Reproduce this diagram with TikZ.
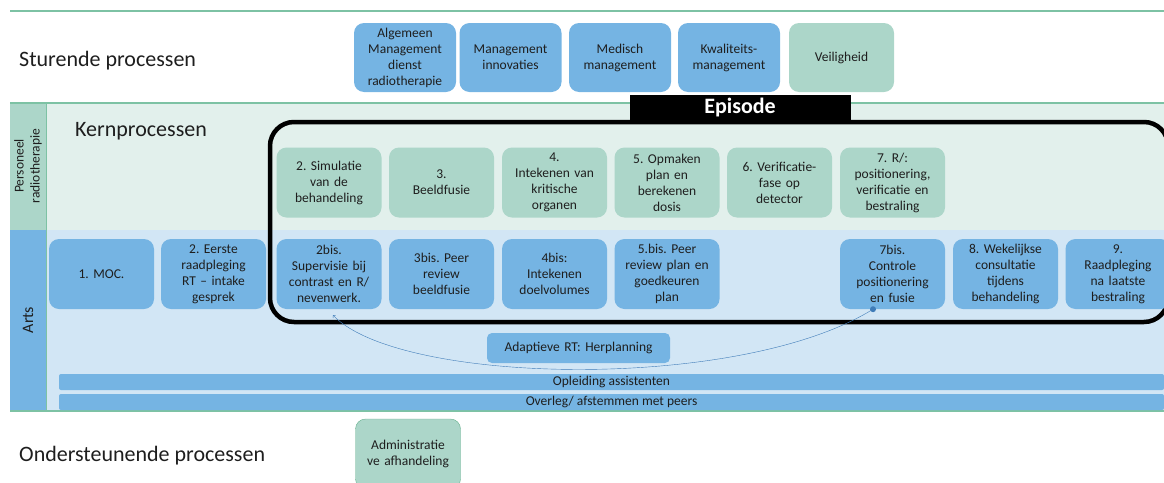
\documentclass[tikz,border=0pt]{standalone}
\usepackage{fontspec}
\setmainfont{Carlito}
\usetikzlibrary{arrows.meta}
\tikzset{>={Straight Barb[scale=.8]}}
\definecolor{boxblue}{RGB}{117,180,227}
\definecolor{boxgreen}{RGB}{172,214,201}
\definecolor{lanegreen}{RGB}{226,240,236}
\definecolor{laneblue}{RGB}{210,230,245}
\definecolor{rulegreen}{RGB}{125,194,164}
\definecolor{edgegreen}{RGB}{100,176,140}
\definecolor{linkblue}{RGB}{63,124,184}
\definecolor{txt}{RGB}{30,30,30}
\tikzset{
  proc/.style={rounded corners=10pt, minimum width=105pt, minimum height=70pt,
    text width=102pt, align=center, inner sep=0pt, text=txt,
    font=\fontsize{13.5}{16}\selectfont},
  arts/.style={proc, fill=boxblue},
  staf/.style={proc, fill=boxgreen},
  bar/.style={fill=boxblue, rounded corners=2pt, minimum height=16pt,
    inner sep=0pt, text=txt, font=\fontsize{13.5}{14}\selectfont},
  heading/.style={anchor=west, inner sep=0pt, text=txt,
    font=\fontsize{22}{26}\selectfont},
  lanelabel/.style={rotate=90, align=center, inner sep=0pt, text=txt,
    font=\fontsize{13.5}{16}\selectfont},
}
\frenchspacing

\begin{document}
\begin{tikzpicture}[x=1pt, y=-1pt]
  \useasboundingbox (0,0) rectangle (1164,482);
  % lanes
  \fill[lanegreen] (10,103) rectangle (1164,230);
  \fill[laneblue] (10,230) rectangle (1164,411);
  \fill[boxgreen] (10,103) rectangle (46,230);
  \fill[boxblue] (10,230) rectangle (46,411);
  \draw[rulegreen, line width=1.3pt] (10,11) -- (1164,11);
  \draw[rulegreen, line width=1.3pt] (10,103) -- (1164,103);
  \draw[rulegreen, line width=1.3pt] (10,411) -- (1164,411);
  \draw[rulegreen] (46,103) -- (46,411);
  \node[lanelabel] (personeel) at (28,166) {Personeel\\radiotherapie};
  \node[lanelabel, font=\fontsize{16}{18}\selectfont] (arts) at (28,320) {Arts};
  % headings
  \node[heading] (sturend) at (19,61) {Sturende processen};
  \node[heading] (kern) at (75,131) {Kernprocessen};
  \node[heading] (onderst) at (19,456) {Ondersteunende processen};
  % sturende processen
  \node[arts, minimum width=100pt, minimum height=69pt] (algemeen) at (405,57.5)
    {Algemeen\\Management\\dienst\\radiotherapie};
  \node[arts, minimum width=95pt, minimum height=69pt] (innovaties) at (510.5,57.5)
    {Management\\innovaties};
  \node[arts, minimum width=96pt, minimum height=69pt] (medisch) at (620,57.5)
    {Medisch\\management};
  \node[arts, minimum width=96pt, minimum height=69pt] (kwaliteit) at (729,57.5)
    {Kwaliteits-\\management};
  \node[staf, minimum height=69pt] (veiligheid) at (841.5,57.5) {Veiligheid};
  % episode
  \draw[line width=4.5pt, rounded corners=24pt] (270,122) rectangle (1168,322);
  \node[fill=black, text=white, minimum width=221pt, minimum height=26pt,
    inner sep=0pt, font=\fontsize{22}{24}\selectfont\bfseries] (episode)
    at (740,108) {Episode};
  % personeel radiotherapie
  \node[staf] (sim) at (329,182.5) {2. Simulatie\\van de\\behandeling};
  \node[staf] (fusie) at (441.5,182.5) {3.\\Beeldfusie};
  \node[staf] (kritisch) at (554.5,182.5) {4.\\Intekenen van\\kritische\\organen};
  \node[staf] (plan) at (667,182.5) {5. Opmaken\\plan en\\berekenen\\dosis};
  \node[staf] (verif) at (779.5,182.5) {6. Verificatie-\\fase op\\detector};
  \node[staf] (bestr) at (892.5,182.5) {7. R/:\\positionering,\\verificatie en\\bestraling};
  % arts
  \node[arts] (moc) at (101.5,274) {1. MOC.};
  \node[arts] (eerste) at (213.5,274) {2. Eerste\\raadpleging\\RT -- intake\\gesprek};
  \node[arts] (supervisie) at (329,274) {2bis.\\Supervisie bij\\contrast en R/\\nevenwerk.};
  \node[arts] (peerfusie) at (441.5,274) {3bis. Peer\\review\\beeldfusie};
  \node[arts] (doel) at (554.5,274) {4bis:\\Intekenen\\doelvolumes};
  \node[arts] (peerplan) at (667,274) {5.bis. Peer\\review plan en\\goedkeuren\\plan};
  \node[arts] (controle) at (892.5,274) {7bis.\\Controle\\positionering\\en fusie};
  \node[arts] (wekelijks) at (1005.5,274) {8. Wekelijkse\\consultatie\\tijdens\\behandeling};
  \node[arts] (nazorg) at (1118,274) {9.\\Raadpleging\\na laatste\\bestraling};
  \node[arts, minimum width=183pt, minimum height=30pt, text width=180pt,
    rounded corners=5pt] (adaptief) at (578.5,348) {Adaptieve RT: Herplanning};
  % herplanning
  \coordinate (van) at ([xshift=-19.5pt]controle.south);
  \coordinate (naar) at ([xshift=4pt, yshift=-6pt]supervisie.south);
  \fill[linkblue] (van) circle (3pt);
  \draw[->, linkblue] (van) .. controls (740,392) and (400,385) .. (naar);
  % balken
  \node[bar, minimum width=1105pt] (opleiding) at (611.5,382) {Opleiding assistenten};
  \node[bar, minimum width=1105pt] (overleg) at (611.5,402) {Overleg/ afstemmen met peers};
  % ondersteunende processen
  \node[staf, draw=edgegreen] (admin) at (408,454) {Administratie\\ve afhandeling};
\end{tikzpicture}
\end{document}
